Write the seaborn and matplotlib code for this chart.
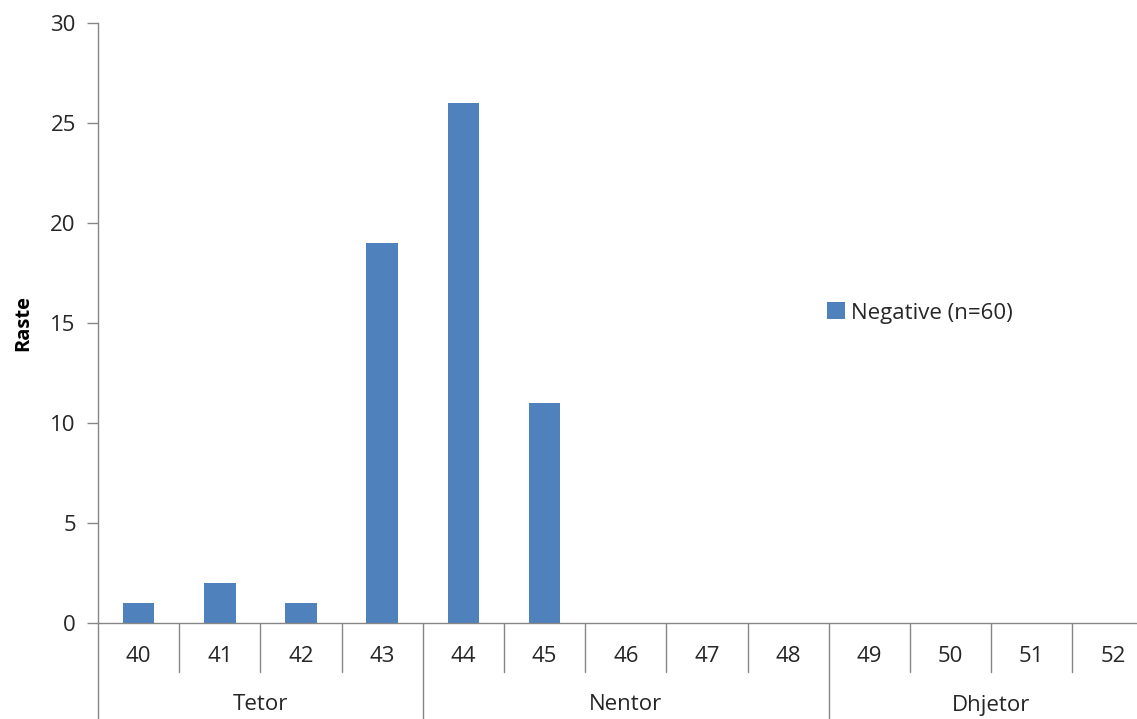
import matplotlib
matplotlib.use("Agg")
import matplotlib.pyplot as plt
import matplotlib.transforms as mtransforms
from matplotlib.patches import Patch
import seaborn as sns
import pandas as pd

weeks = ["40", "41", "42", "43", "44", "45", "46", "47", "48", "49", "50", "51", "52"]
counts = [1, 2, 1, 19, 26, 11, 0, 0, 0, 0, 0, 0, 0]
months = ["Tetor", "Nentor", "Dhjetor"]
month_sizes = [4, 5, 4]
series_label = "Negative (n=60)"
y_label = "Raste"
y_ticks = [0, 5, 10, 15, 20, 25, 30]

sns.set_style("white")
plt.rcParams["font.family"] = ["Open Sans", "DejaVu Sans"]

bar_color = "#4F81BD"
axis_color = "#868686"
text_color = "#262626"
fs = 16

W, H = 1137, 719
x0, y0 = 98, 623
cat_w = 81.2
plot_w = cat_w * len(weeks)

fig = plt.figure(figsize=(W / 100, H / 100), dpi=100)
ax = fig.add_axes([x0 / W, 1 - y0 / H, plot_w / W, 600 / H])

df = pd.DataFrame({"week": weeks, "count": counts})
sns.barplot(data=df, x="week", y="count", color=bar_color, width=0.39,
            saturation=1, ax=ax, edgecolor="none")

ax.set_xlim(-0.5, len(weeks) - 0.5)
ax.set_ylim(0, 30)
ax.set_yticks(y_ticks)
ax.set_yticklabels([str(t) for t in y_ticks], fontsize=fs, color=text_color)
ax.tick_params(axis="y", length=8, width=1, color=axis_color, pad=8, direction="out", left=True)
ax.tick_params(axis="x", length=0)
ax.set_xticks([])
ax.set_xlabel("")
ax.set_ylabel(y_label, fontsize=14.5, fontweight="bold", color="black", labelpad=12)

for s in ["top", "right"]:
    ax.spines[s].set_visible(False)
for s in ["left", "bottom"]:
    ax.spines[s].set_color(axis_color)
    ax.spines[s].set_linewidth(1)

trans = mtransforms.blended_transform_factory(ax.transData, ax.transAxes)
cat_bottom = (y0 - 672) / 600
full_bottom = (y0 - 720) / 600

for i, w in enumerate(weeks):
    ax.text(i, (y0 - 656) / 600, w, transform=trans, ha="center", va="center",
            fontsize=fs, color=text_color)

group_edges = [-0.5]
for sz in month_sizes:
    group_edges.append(group_edges[-1] + sz)
for i in range(len(weeks) - 1):
    xb = i + 0.5
    if xb in group_edges:
        continue
    ax.plot([xb, xb], [0, cat_bottom], transform=trans, color=axis_color,
            lw=1, clip_on=False)
for xb in group_edges[:-1]:
    ax.plot([xb, xb], [0, full_bottom], transform=trans, color=axis_color,
            lw=1, clip_on=False)

for m, a, b in zip(months, group_edges[:-1], group_edges[1:]):
    ax.text((a + b) / 2, (y0 - 705) / 600, m, transform=trans, ha="center",
            va="center", fontsize=fs, color=text_color)

handle = Patch(facecolor=bar_color, edgecolor="none")
leg = fig.legend([handle], [series_label], loc="center left",
                 bbox_to_anchor=(827 / W, 1 - 313 / H), frameon=False, fontsize=fs,
                 handlelength=0.8, handleheight=0.8, handletextpad=0.3,
                 borderaxespad=0, borderpad=0)
for t in leg.get_texts():
    t.set_color(text_color)

fig.savefig("out.png", dpi=100)
